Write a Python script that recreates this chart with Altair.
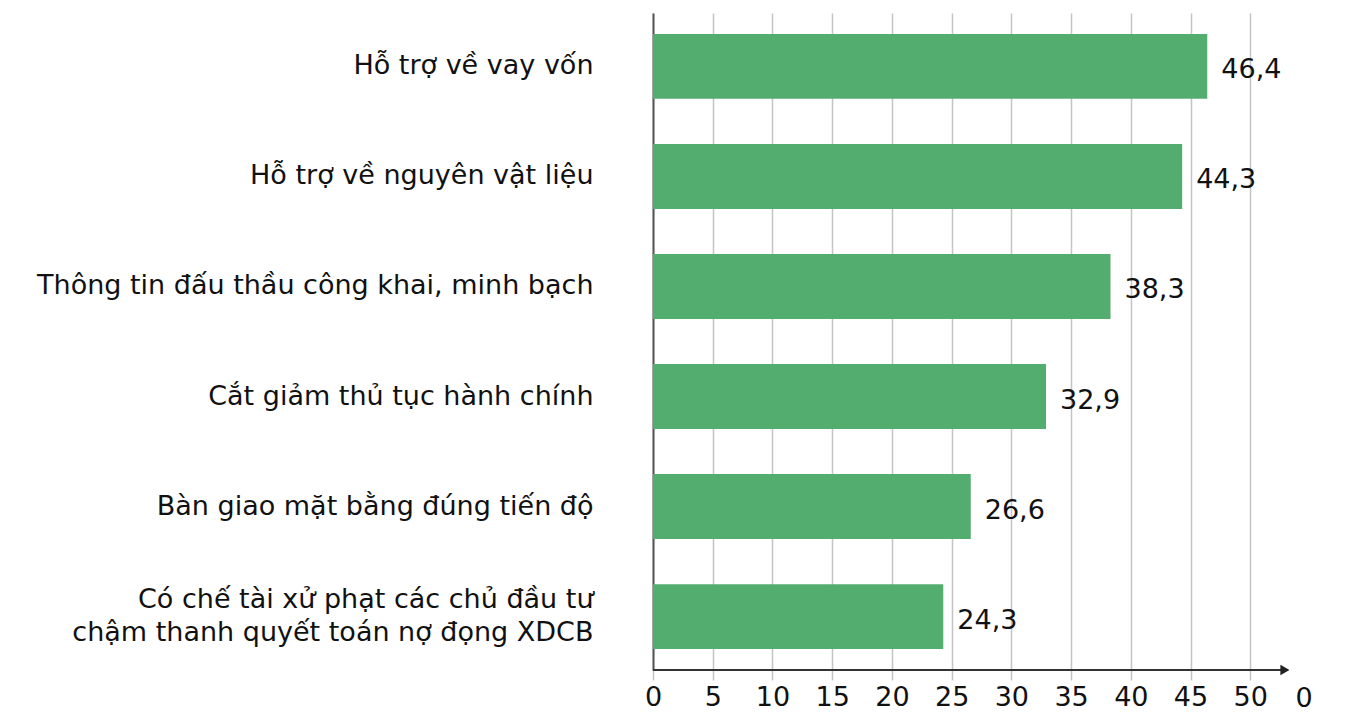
import altair as alt
import pandas as pd

categories = [
    "Hỗ trợ về vay vốn",
    "Hỗ trợ về nguyên vật liệu",
    "Thông tin đấu thầu công khai, minh bạch",
    "Cắt giảm thủ tục hành chính",
    "Bàn giao mặt bằng đúng tiến độ",
    "Có chế tài xử phạt các chủ đầu tư\nchậm thanh quyết toán nợ đọng XDCB",
]
values = [46.4, 44.3, 38.3, 32.9, 26.6, 24.3]
value_labels = ["46,4", "44,3", "38,3", "32,9", "26,6", "24,3"]
tick_values = [0, 5, 10, 15, 20, 25, 30, 35, 40, 45, 50]
extra_tick = 54.5
extra_tick_label = "0"
axis_max = 55
arrow_end = 52.9

FONT = "DejaVu Sans"
FS = 27
W = 657
H = 657
TICK = 10
LPAD = 4

df = pd.DataFrame({"cat": categories, "val": values, "lab": value_labels})

xscale = alt.Scale(domain=[0, axis_max], nice=False, zero=True)
yscale = alt.Scale(paddingInner=0.41, paddingOuter=0.19)

x_axis = alt.Axis(
    values=tick_values,
    grid=True,
    gridColor="#c4c4c4",
    gridWidth=1.5,
    ticks=True,
    tickColor="#c4c4c4",
    tickWidth=1.5,
    tickSize=TICK,
    domain=False,
    title=None,
    labelFlush=False,
    labelFontSize=FS,
    labelFont=FONT,
    labelColor="#111111",
    labelPadding=LPAD,
)

y_axis = alt.Axis(
    labelExpr="split(datum.label, '\\n')",
    labelFontSize=FS,
    labelFont=FONT,
    labelColor="#111111",
    labelPadding=60,
    labelLimit=0,
    labelLineHeight=33,
    labelOffset={"condition": {"test": "indexof(datum.value, '\\n') >= 0", "value": -17}, "value": 0},
    ticks=False,
    domain=True,
    domainColor="#555555",
    domainWidth=2,
    grid=False,
    title=None,
)

base = alt.Chart(df)

bars = base.mark_bar(color="#53ad6f").encode(
    x=alt.X("val:Q", scale=xscale, axis=x_axis),
    y=alt.Y("cat:N", sort=categories, scale=yscale, axis=y_axis),
)

texts = base.mark_text(
    align="left", baseline="middle", dx=14, dy=4, fontSize=FS, font=FONT, color="#111111"
).encode(
    x=alt.X("val:Q", scale=xscale),
    y=alt.Y("cat:N", sort=categories, scale=yscale),
    text="lab:N",
)

axis_df = pd.DataFrame({"x0": [0], "x1": [arrow_end]})
axis_line = alt.Chart(axis_df).mark_rule(color="#333333", strokeWidth=2).encode(
    x=alt.X("x0:Q", scale=xscale),
    x2="x1:Q",
    y=alt.value(H),
)
arrow = alt.Chart(axis_df).mark_point(
    shape="triangle-right", filled=True, size=110, color="#222222", opacity=1
).encode(
    x=alt.X("x1:Q", scale=xscale),
    y=alt.value(H),
)

extra_df = pd.DataFrame({"x": [extra_tick], "t": [extra_tick_label]})
extra_label = alt.Chart(extra_df).mark_text(
    align="center", baseline="top", dy=TICK + LPAD + 2, fontSize=FS, font=FONT, color="#111111"
).encode(
    x=alt.X("x:Q", scale=xscale),
    y=alt.value(H),
    text="t:N",
)

chart = (
    alt.layer(bars, texts, axis_line, arrow, extra_label)
    .properties(
        width=W,
        height=H,
        background="white",
        padding={"left": 28, "top": 5, "right": 5, "bottom": 5},
    )
    .configure_view(stroke="transparent", strokeWidth=0)
)

chart.save("out.html", embed_options={"renderer": "svg", "actions": False})
